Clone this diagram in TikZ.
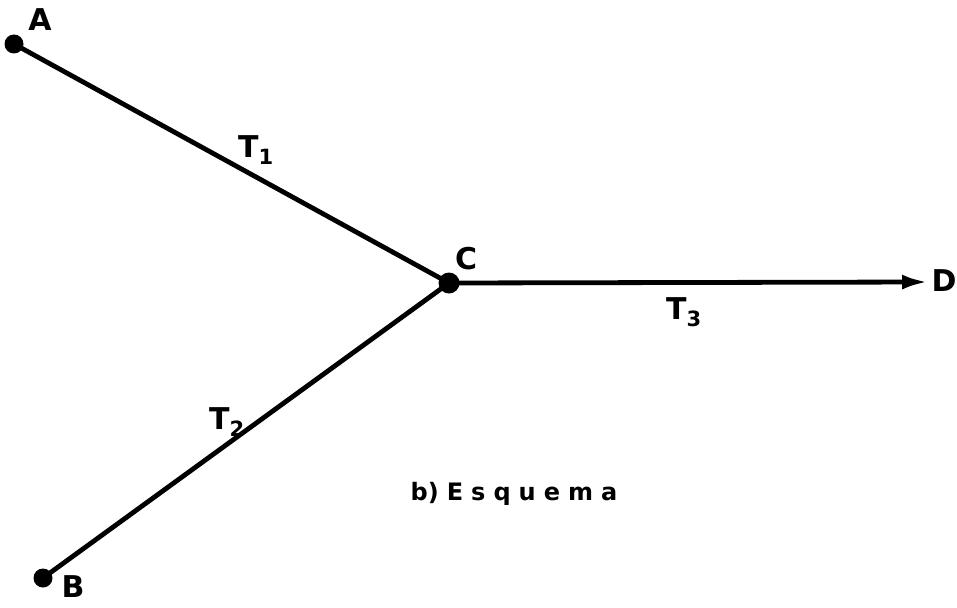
\documentclass[tikz,border=0pt]{standalone}
\usepackage{fontspec}
\setmainfont{DejaVu Sans}
\usetikzlibrary{arrows.meta}
\begin{document}
\begin{tikzpicture}[x=1pt,y=-1pt,
  lbl/.style={font=\fontsize{30}{30}\selectfont\bfseries, inner sep=0pt},
  tl/.style={font=\fontsize{30}{30}\selectfont\bfseries, inner sep=0pt},
  dot/.style={circle, fill=black, inner sep=0pt, minimum size=#1},
  pipe/.style={line width=4.8pt}]
\useasboundingbox (0,0) rectangle (957,607);
\node[dot=19pt] (A) at (14,44) {};
\node[dot=19pt] (B) at (43,578) {};
\node[dot=21pt] (C) at (449,283) {};
\coordinate (D) at (928,282);
\draw[pipe] (A.center) -- (C.center);
\draw[pipe] (B.center) -- (C.center);
\draw[pipe, -{Latex[length=26pt,width=15pt]}] (C.center) -- (D);
\node[lbl] (la) at (40,20) {A};
\node[lbl] (lb) at (73,587) {B};
\node[lbl] (lc) at (466,259) {C};
\node[lbl] (ld) at (944,281) {D};
\node[tl] (t1) at (256,150) {T$_{\mathbf{1}}$};
\node[tl] (t2) at (227,422) {T$_{\mathbf{2}}$};
\node[tl] (t3) at (684,312) {T$_{\mathbf{3}}$};
\node[font=\fontsize{24}{24}\selectfont\bfseries, inner sep=0pt] (cap) at (514,494) {b)\,\,E\,\,s\,\,q\,\,u\,\,e\,\,m\,\,a};
\end{tikzpicture}
\end{document}
